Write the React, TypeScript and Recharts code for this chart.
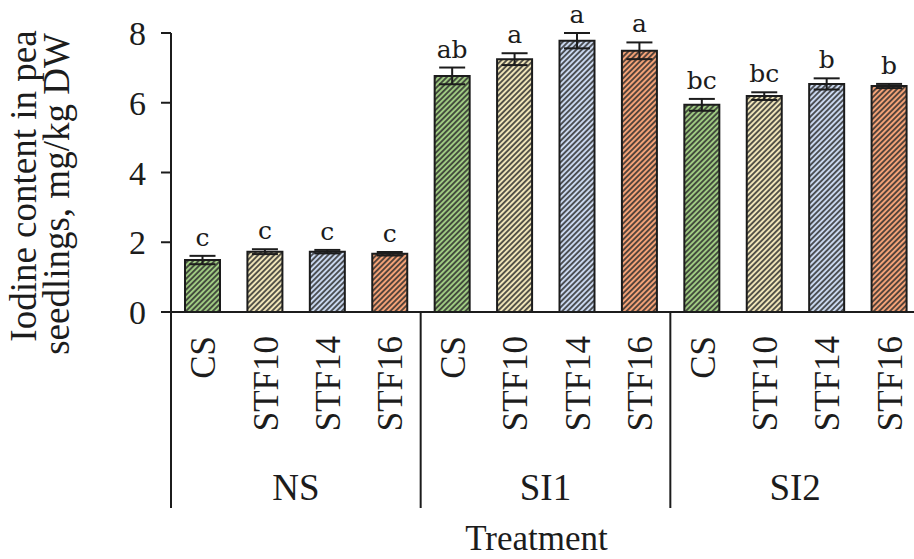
import React from 'react';
import { BarChart, Bar, XAxis, YAxis, ErrorBar, LabelList, Cell } from 'recharts';

// ---- data ----
const groups = ['NS', 'SI1', 'SI2'];
const treatments = ['CS', 'STF10', 'STF14', 'STF16'];
const nsMeans = [1.49, 1.73, 1.73, 1.67];
const si1Means = [6.77, 7.25, 7.78, 7.49];
const si2Means = [5.94, 6.19, 6.54, 6.48];
const nsErr = [0.12, 0.07, 0.05, 0.05];
const si1Err = [0.24, 0.17, 0.22, 0.24];
const si2Err = [0.17, 0.11, 0.16, 0.06];
const nsLetters = ['c', 'c', 'c', 'c'];
const si1Letters = ['ab', 'a', 'a', 'a'];
const si2Letters = ['bc', 'bc', 'b', 'b'];
const yTicks = [0, 2, 4, 6, 8];

const meansByGroup = [nsMeans, si1Means, si2Means];
const errByGroup = [nsErr, si1Err, si2Err];
const lettersByGroup = [nsLetters, si1Letters, si2Letters];

const data = groups.flatMap((g, gi) =>
  treatments.map((t, ti) => ({
    key: `${g}-${t}`,
    group: g,
    treatment: t,
    ti,
    mean: meansByGroup[gi][ti],
    err: errByGroup[gi][ti],
    letter: lettersByGroup[gi][ti],
  }))
);

// ---- styles ----
const fillColors = ['#9fca82', '#efe4b8', '#c9d7ee', '#f3a277'];
const patternIds = ['hatch-green', 'hatch-beige', 'hatch-blue', 'hatch-orange'];
const INK = '#1c1c1c';
const SERIF = '"Liberation Serif", "Times New Roman", serif';

const CHART_W = 930;
const CHART_H = 559;
const Y_AXIS_W = 171;
const MARGIN = { top: 33, right: 10, bottom: 0, left: 0 };
const PLOT_W = CHART_W - Y_AXIS_W - MARGIN.left - MARGIN.right;
const BAND = PLOT_W / data.length;

const XTick = (props: any) => {
  const { x, y, payload } = props;
  const idx = payload?.index ?? props.index ?? 0;
  const d = data[idx];
  const labelTop = y + 24;
  return (
    <g>
      <text
        x={x + 13}
        y={labelTop}
        transform={`rotate(-90 ${x + 13} ${labelTop})`}
        textAnchor="end"
        fontFamily={SERIF}
        fontSize={35}
        fill={INK}
      >
        {d.treatment}
      </text>
      {d.ti === 0 && (
        <line x1={x - BAND / 2} x2={x - BAND / 2} y1={y} y2={y + 196} stroke={INK} strokeWidth={2} />
      )}
      {d.ti === 1 && (
        <text x={x + BAND / 2} y={y + 188} textAnchor="middle" fontFamily={SERIF} fontSize={37} fill={INK}>
          {d.group}
        </text>
      )}
    </g>
  );
};

const YTitle = () => (
  <g>
    <text
      x={36}
      y={186}
      transform="rotate(-90 36 186)"
      textAnchor="middle"
      fontFamily={SERIF}
      fontSize={37}
      fill={INK}
    >
      Iodine content in pea
    </text>
    <text
      x={69}
      y={194}
      transform="rotate(-90 69 194)"
      textAnchor="middle"
      fontFamily={SERIF}
      fontSize={37}
      fill={INK}
    >
      seedlings, mg/kg DW
    </text>
  </g>
);

const XTitle = (props: any) => {
  const vb = props.viewBox || {};
  const cx = (vb.x ?? 0) + (vb.width ?? 0) / 2 - 9;
  return (
    <text x={cx} y={550} textAnchor="middle" fontFamily={SERIF} fontSize={35} fill={INK}>
      Treatment
    </text>
  );
};

const LetterLabel = (props: any) => {
  const { x, y, width, height, index, value } = props;
  const d = data[index];
  if (!d || !height) return null;
  const pxPerUnit = height / d.mean;
  const top = y - d.err * pxPerUnit;
  return (
    <text
      x={x + width / 2}
      y={top - 10}
      textAnchor="middle"
      fontFamily='"DejaVu Serif", serif'
      fontSize={25}
      fill={INK}
    >
      {value}
    </text>
  );
};

export default function App() {
  return (
    <div style={{ position: 'absolute', left: 0, top: 0, width: 914, height: 559, overflow: 'hidden', background: '#fff' }}>
      <svg width={0} height={0} style={{ position: 'absolute' }}>
        <defs>
          {patternIds.map((id, i) => (
            <pattern key={id} id={id} patternUnits="userSpaceOnUse" width={3.8} height={3.8} patternTransform="rotate(45)">
              <rect width={3.8} height={3.8} fill={fillColors[i]} />
              <line x1={1.9} y1={0} x2={1.9} y2={3.8} stroke="#2a2a2a" strokeWidth={1.5} />
            </pattern>
          ))}
        </defs>
      </svg>
      <BarChart width={CHART_W} height={CHART_H} data={data} margin={MARGIN} barSize={35}>
        <XAxis
          dataKey="key"
          height={CHART_H - 312}
          interval={0}
          tickLine={false}
          tickSize={0}
          tickMargin={0}
          axisLine={{ stroke: INK, strokeWidth: 2 }}
          tick={<XTick />}
          label={<XTitle />}
        />
        <YAxis
          width={Y_AXIS_W}
          domain={[0, 8]}
          ticks={yTicks}
          interval={0}
          tickSize={10}
          tickMargin={15}
          axisLine={{ stroke: INK, strokeWidth: 2 }}
          tickLine={{ stroke: INK, strokeWidth: 2 }}
          tick={{ fontFamily: SERIF, fontSize: 34, fill: INK }}
          label={<YTitle />}
        />
        <Bar dataKey="mean" isAnimationActive={false} stroke={INK} strokeWidth={2}>
          {data.map((d) => (
            <Cell key={d.key} fill={`url(#${patternIds[d.ti]})`} />
          ))}
          <ErrorBar dataKey="err" width={13} stroke={INK} strokeWidth={2} direction="y" />
          <LabelList dataKey="letter" content={<LetterLabel />} />
        </Bar>
      </BarChart>
    </div>
  );
}
